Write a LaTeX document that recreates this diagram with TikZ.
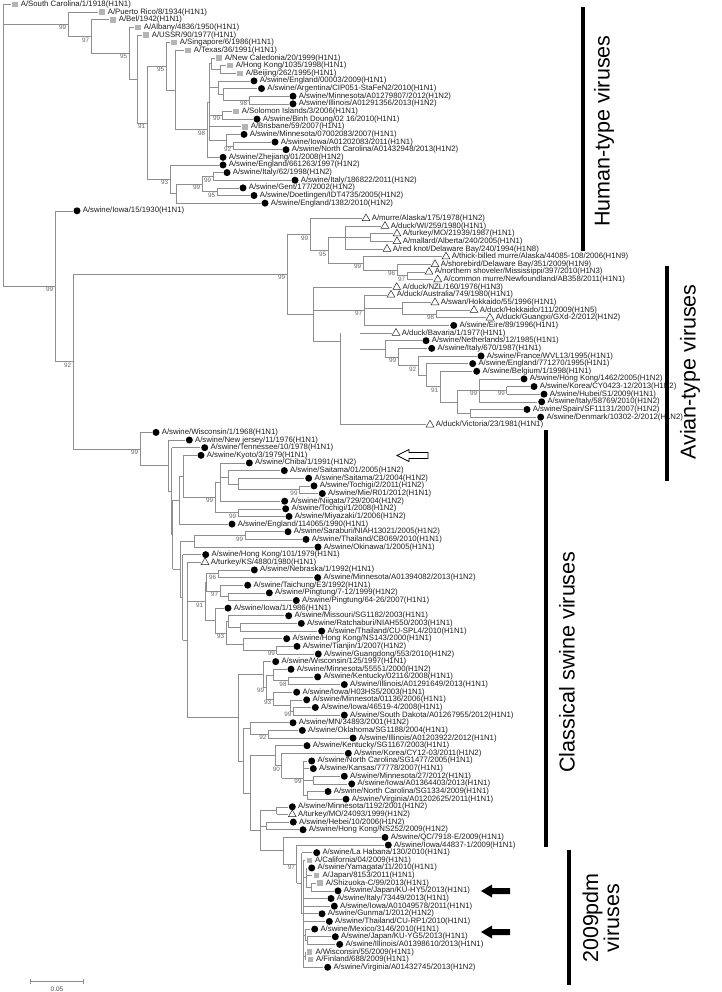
\documentclass[tikz,border=0pt]{standalone}
\usepackage{fontspec}
\setmainfont{Liberation Sans}
\usetikzlibrary{calc,shapes.geometric}
\definecolor{brc}{HTML}{8E8E8E}
\definecolor{sqc}{HTML}{B4B4B4}
\tikzset{
  br/.style={draw=brc, line width=0.6pt},
  lab/.style={anchor=west, inner sep=0pt, font=\fontsize{7.8}{8}\selectfont, text=black!88},
  sq/.style={rectangle, fill=sqc, minimum size=5.5pt, inner sep=0pt},
  ci/.style={circle, fill=black, minimum size=7pt, inner sep=0pt},
  tr/.style={regular polygon, regular polygon sides=3, draw=black!85, line width=0.5pt, minimum size=9pt, inner sep=0pt},
  bs/.style={anchor=north east, inner sep=0.4pt, font=\fontsize{6.3}{6.3}\selectfont, text=black!60},
  grpbar/.style={draw=black, line width=4.5pt},
  grp/.style={font=\fontsize{21.5}{24}\selectfont, inner sep=0pt, rotate=90},
}
% leaf: name, parent x, marker x, row, marker style, text
\newcommand\tleaf[6]{%
  \coordinate (#1) at (#3,4.5+7.641*#4);
  \draw[br] (#2,4.5+7.641*#4) -- (#3-4.5,4.5+7.641*#4);
  \node[#5] (#1m) at (#1) {};
  \node[lab] (#1t) at (#3+5.6,4.5+7.641*#4) {#6};
}
% internal node: name, parent x, x, first child, last child
\newcommand\tnode[5]{%
  \path let \p1=(#4), \p2=(#5) in coordinate (#1) at (#3pt,{0.5*\y1+0.5*\y2});
  \draw[br] let \p1=(#4), \p2=(#5), \p3=(#1) in (#3pt,\y1) -- (#3pt,\y2) (#2pt,\y3) -- (#3pt,\y3);
}
\newcommand\tboot[2]{\node[bs] (#1b) at ([xshift=-1.2pt,yshift=-0.6pt]#1) {#2};}
\begin{document}
\begin{tikzpicture}[x=1pt,y=-1pt]
\useasboundingbox (0,0) rectangle (721,992);
% ---------------- human-type
\tleaf{sc}{3}{15}{0}{sq}{A/South Carolina/1/1918(H1N1)}
\tleaf{pr}{68}{102}{1}{sq}{A/Puerto Rico/8/1934(H1N1)}
\tleaf{bel}{91}{113}{2}{sq}{A/Bel/1942(H1N1)}
\tleaf{alb}{129}{138}{3}{sq}{A/Albany/4836/1950(H1N1)}
\tleaf{ussr}{137}{146}{4}{sq}{A/USSR/90/1977(H1N1)}
\tleaf{sing}{166}{174}{5}{sq}{A/Singapore/6/1986(H1N1)}
\tleaf{tex}{175}{188}{6}{sq}{A/Texas/36/1991(H1N1)}
\tleaf{nca}{211}{219}{7}{sq}{A/New Caledonia/20/1999(H1N1)}
\tleaf{hk}{220}{230}{8}{sq}{A/Hong Kong/1035/1998(H1N1)}
\tleaf{bei}{220}{240}{9}{sq}{A/Beijing/262/1995(H1N1)}
\tleaf{eng}{218}{254}{10}{ci}{A/swine/England/00003/2009(H1N1)}
\tleaf{arg}{223}{261.5}{11}{ci}{A/swine/Argentina/CIP051-StaFeN2/2010(H1N1)}
\tleaf{mna}{249}{293}{12}{ci}{A/swine/Minnesota/A01279807/2012(H1N2)}
\tleaf{ila}{249}{293}{13}{ci}{A/swine/Illinois/A01291356/2013(H1N2)}
\tleaf{sol}{222}{236}{14}{sq}{A/Solomon Islands/3/2006(H1N1)}
\tleaf{binh}{222}{257}{15}{ci}{A/swine/Binh Doung/02 16/2010(H1N1)}
\tleaf{bri}{209}{245}{16}{sq}{A/Brisbane/59/2007(H1N1)}
\tleaf{mn07}{226}{244}{17}{ci}{A/swine/Minnesota/07002083/2007(H1N1)}
\tleaf{iowa11}{233}{275}{18}{ci}{A/swine/Iowa/A01202083/2011(H1N1)}
\tleaf{nc13}{233}{286}{19}{ci}{A/swine/North Carolina/A01432948/2013(H1N2)}
\tleaf{zhe}{207}{223}{20}{ci}{A/swine/Zhejiang/01/2008(H1N2)}
\tleaf{eng97}{170}{223}{21}{ci}{A/swine/England/661263/1997(H1N2)}
\tleaf{ita62}{213}{227}{22}{ci}{A/swine/Italy/62/1998(H1N2)}
\tleaf{ita11}{213}{295}{23}{ci}{A/swine/Italy/186822/2011(H1N2)}
\tleaf{gent}{217}{243}{24}{ci}{A/swine/Gent/177/2002(H1N2)}
\tleaf{doet}{217}{254}{25}{ci}{A/swine/Doetlingen/IDT4735/2005(H1N2)}
\tleaf{eng10}{176}{265}{26}{ci}{A/swine/England/1382/2010(H1N2)}
\tleaf{iowa30}{55}{77}{27}{ci}{A/swine/Iowa/15/1930(H1N1)}
\tnode{hHK}{211}{220}{hk}{bei}
\tnode{hNC}{209}{211}{nca}{hHK}
\tnode{hMI}{223}{249}{mna}{ila}\tboot{hMI}{98}
\tnode{hAMI}{218}{223}{arg}{hMI}
\tnode{hE}{209}{218}{eng}{hAMI}
\tnode{hSB}{209}{222}{sol}{binh}\tboot{hSB}{99}
\tnode{hIN}{226}{233}{iowa11}{nc13}\tboot{hIN}{92}
\tnode{hMIN}{209}{226}{mn07}{hIN}
\tnode{hHt}{207}{209}{hNC}{hMIN}
\tnode{h8}{175}{207}{hHt}{zhe}\tboot{h8}{98}
\tnode{h7}{166}{175}{tex}{h8}
\tnode{h6}{147}{166}{sing}{h7}\tboot{h6}{95}
\tnode{hIt}{202}{213}{ita62}{ita11}\tboot{hIt}{99}
\tnode{hGD}{202}{217}{gent}{doet}\tboot{hGD}{95}
\tnode{hIGD}{176}{202}{hIt}{hGD}\tboot{hIGD}{99}
\tnode{hX}{170}{176}{hIGD}{eng10}
\tnode{hE93}{147}{170}{eng97}{hX}\tboot{hE93}{93}
\tnode{h5}{137}{147}{h6}{hE93}\tboot{h5}{91}
\tnode{h4}{129}{137}{ussr}{h5}
\tnode{h3}{91}{129}{alb}{h4}\tboot{h3}{95}
\tnode{h2}{68}{91}{bel}{h3}\tboot{h2}{97}
\tnode{h1}{3}{68}{pr}{h2}\tboot{h1}{99}
% ---------------- avian-type
\tleaf{mur}{310}{366}{28}{tr}{A/murre/Alaska/175/1978(H1N2)}
\tleaf{wi}{345}{385}{29}{tr}{A/duck/WI/259/1980(H1N1)}
\tleaf{tmo}{370}{397}{30}{tr}{A/turkey/MO/21939/1987(H1N1)}
\tleaf{mal}{370}{397}{31}{tr}{A/mallard/Alberta/240/2005(H1N1)}
\tleaf{rk}{345}{387}{32}{tr}{A/red knot/Delaware Bay/240/1994(H1N8)}
\tleaf{tbm}{363}{446}{33}{tr}{A/thick-billed murre/Alaska/44085-108/2006(H1N9)}
\tleaf{shb}{397}{435}{34}{tr}{A/shorebird/Delaware Bay/351/2009(H1N9)}
\tleaf{nsh}{407}{429}{35}{tr}{A/northern shoveler/Mississippi/397/2010(H1N3)}
\tleaf{cmu}{407}{437.7}{36}{tr}{A/common murre/Newfoundland/AB358/2011(H1N1)}
\tleaf{nzl}{313}{396.7}{37}{tr}{A/duck/NZL/160/1976(H1N3)}
\tleaf{aus}{364}{391}{38}{tr}{A/duck/Australia/749/1980(H1N1)}
\tleaf{swan}{402}{435}{39}{tr}{A/swan/Hokkaido/55/1996(H1N1)}
\tleaf{dhok}{436}{474}{40}{tr}{A/duck/Hokkaido/111/2009(H1N5)}
\tleaf{gx}{436}{490}{41}{tr}{A/duck/Guangxi/GXd-2/2012(H1N2)}
\tleaf{eire}{364}{453.7}{42}{ci}{A/swine/Eire/89/1996(H1N1)}
\tleaf{bav}{360}{396}{43}{tr}{A/duck/Bavaria/1/1977(H1N1)}
\tleaf{neth}{385}{426}{44}{ci}{A/swine/Netherlands/12/1985(H1N1)}
\tleaf{it670}{398}{431.7}{45}{ci}{A/swine/Italy/670/1987(H1N1)}
\tleaf{fra}{418}{481}{46}{ci}{A/swine/France/WVL13/1995(H1N1)}
\tleaf{eng95}{426}{472.7}{47}{ci}{A/swine/England/771270/1995(H1N1)}
\tleaf{belg}{440}{476.7}{48}{ci}{A/swine/Belgium/1/1998(H1N1)}
\tleaf{hk05}{479}{524}{49}{ci}{A/swine/Hong Kong/1462/2005(H1N2)}
\tleaf{kor13}{506.7}{534}{50}{ci}{A/swine/Korea/CY0423-12/2013(H1N2)}
\tleaf{hub}{506.7}{544}{51}{ci}{A/swine/Hubei/S1/2009(H1N1)}
\tleaf{it10}{479}{541.7}{52}{ci}{A/swine/Italy/58769/2010(H1N2)}
\tleaf{spa}{470}{527}{53}{ci}{A/swine/Spain/SF11131/2007(H1N2)}
\tleaf{den}{470}{540.7}{54}{ci}{A/swine/Denmark/10302-2/2012(H1N2)}
\tleaf{vic}{340}{430}{55}{tr}{A/duck/Victoria/23/1981(H1N1)}
\tnode{aTM}{345}{370}{tmo}{mal}
\tnode{aW}{328}{345}{wi}{rk}
\tnode{a97}{397}{407}{nsh}{cmu}\tboot{a97}{97}
\tnode{a96}{363}{397}{shb}{a97}\tboot{a96}{96}
\tnode{a99b}{328}{363}{tbm}{a96}\tboot{a99b}{99}
\tnode{a95}{310}{328}{aW}{a99b}\tboot{a95}{95}
\tnode{a1}{287}{310}{mur}{a95}\tboot{a1}{99}
\tnode{a98}{402}{436}{dhok}{gx}\tboot{a98}{98}
\tnode{aSw}{364}{402}{swan}{a98}
\tnode{a97a}{313}{364}{aus}{eire}\tboot{a97a}{97}
\tnode{aKH}{479}{506.7}{kor13}{hub}\tboot{aKH}{99}
\tnode{aHKI}{457}{479}{hk05}{it10}\tboot{aHKI}{99}
\tnode{aSD}{457}{470}{spa}{den}
\tnode{aHD}{440}{457}{aHKI}{aSD}
\tnode{a91}{426}{440}{belg}{aHD}\tboot{a91}{91}
\tnode{aEB}{418}{426}{eng95}{a91}
\tnode{a92}{398}{418}{fra}{aEB}\tboot{a92}{92}
\tnode{a99e}{385}{398}{it670}{a92}\tboot{a99e}{99}
\tnode{aN}{360}{385}{neth}{a99e}
\tnode{aEA}{313}{340}{bav}{aN}
\draw[br] let \p1=(aEA), \p2=(vic) in (340pt,\y1) -- (340pt,\y2);
\tnode{a2}{287}{313}{nzl}{aEA}
\tnode{av}{73}{287}{a1}{a2}\tboot{av}{99}
% ---------------- classical swine
\tleaf{wis68}{140}{156}{56}{ci}{A/swine/Wisconsin/1/1968(H1N1)}
\tleaf{nj}{168.3}{189.3}{57}{ci}{A/swine/New jersey/11/1976(H1N1)}
\tleaf{ten}{171.7}{204.7}{58}{ci}{A/swine/Tennessee/10/1978(H1N1)}
\tleaf{kyo}{183}{201}{59}{ci}{A/swine/Kyoto/3/1979(H1N1)}
\tleaf{chi}{220}{249.3}{60}{ci}{A/swine/Chiba/1/1991(H1N2)}
\tleaf{sai01}{228}{284.3}{61}{ci}{A/swine/Saitama/01/2005(H1N2)}
\tleaf{sai21}{238.3}{308.7}{62}{ci}{A/swine/Saitama/21/2004(H1N2)}
\tleaf{toc2}{299.3}{314}{63}{ci}{A/swine/Tochigi/2/2011(H1N2)}
\tleaf{mie}{299.3}{322.3}{64}{ci}{A/swine/Mie/R01/2012(H1N1)}
\tleaf{nii}{220}{284.7}{65}{ci}{A/swine/Niigata/729/2004(H1N2)}
\tleaf{toc1}{238}{285.7}{66}{ci}{A/swine/Tochigi/1/2008(H1N2)}
\tleaf{miy}{238}{289}{67}{ci}{A/swine/Miyazaki/1/2006(H1N2)}
\tleaf{eng90}{179.3}{232}{68}{ci}{A/swine/England/114065/1990(H1N1)}
\tleaf{sar}{245}{288}{69}{ci}{A/swine/Saraburi/NIAH13021/2005(H1N2)}
\tleaf{thcb}{245}{306}{70}{ci}{A/swine/Thailand/CB069/2010(H1N1)}
\tleaf{oki}{194}{318}{71}{ci}{A/swine/Okinawa/1/2005(H1N1)}
\tleaf{hk79}{182.7}{205.7}{72}{ci}{A/swine/Hong Kong/101/1979(H1N1)}
\tleaf{tks}{187.3}{205}{73}{tr}{A/turkey/KS/4880/1980(H1N1)}
\tleaf{neb}{218}{254.3}{74}{ci}{A/swine/Nebraska/1/1992(H1N1)}
\tleaf{mn13}{218}{317.7}{75}{ci}{A/swine/Minnesota/A01394082/2013(H1N2)}
\tleaf{tai}{220}{247.7}{76}{ci}{A/swine/Taichung/E3/1992(H1N1)}
\tleaf{pt99}{228.3}{269.3}{77}{ci}{A/swine/Pingtung/7-12/1999(H1N2)}
\tleaf{pt07}{228.3}{296.3}{78}{ci}{A/swine/Pingtung/64-26/2007(H1N1)}
\tleaf{iow86}{215}{228}{79}{ci}{A/swine/Iowa/1/1986(H1N1)}
\tleaf{mis}{228.3}{288.7}{80}{ci}{A/swine/Missouri/SG1182/2003(H1N1)}
\tleaf{rat}{240}{301.3}{81}{ci}{A/swine/Ratchaburi/NIAH550/2003(H1N1)}
\tleaf{thsp}{240}{321.7}{82}{ci}{A/swine/Thailand/CU-SPL4/2010(H1N1)}
\tleaf{hk00}{243.3}{286.7}{83}{ci}{A/swine/Hong Kong/NS143/2000(H1N1)}
\tleaf{tia}{276.7}{297}{84}{ci}{A/swine/Tianjin/1/2007(H1N2)}
\tleaf{gd}{276.7}{318.3}{85}{ci}{A/swine/Guangdong/553/2010(H1N2)}
\tleaf{wis97}{263}{275.7}{86}{ci}{A/swine/Wisconsin/125/1997(H1N1)}
\tleaf{mn00}{273.3}{291}{87}{ci}{A/swine/Minnesota/55551/2000(H1N2)}
\tleaf{ken08}{288.3}{317.7}{88}{ci}{A/swine/Kentucky/02116/2008(H1N1)}
\tleaf{il13}{288.3}{344.3}{89}{ci}{A/swine/Illinois/A01291649/2013(H1N1)}
\tleaf{iah03}{273}{296.7}{90}{ci}{A/swine/Iowa/H03HS5/2003(H1N1)}
\tleaf{mn06}{290}{306.7}{91}{ci}{A/swine/Minnesota/01136/2006(H1N1)}
\tleaf{ia08}{293.3}{315.3}{92}{ci}{A/swine/Iowa/46519-4/2008(H1N1)}
\tleaf{sd}{293.3}{344.3}{93}{ci}{A/swine/South Dakota/A01267955/2012(H1N1)}
\tleaf{mn01}{250}{293}{94}{ci}{A/swine/MN/34893/2001(H1N2)}
\tleaf{okl}{268.3}{302.3}{95}{ci}{A/swine/Oklahoma/SG1188/2004(H1N1)}
\tleaf{il12}{268.3}{353}{96}{ci}{A/swine/Illinois/A01203922/2012(H1N1)}
\tleaf{ken03}{275}{307}{97}{ci}{A/swine/Kentucky/SG1167/2003(H1N1)}
\tleaf{kor11}{281.7}{348.3}{98}{ci}{A/swine/Korea/CY12-03/2011(H1N2)}
\tleaf{nc05}{303.3}{311.7}{99}{ci}{A/swine/North Carolina/SG1477/2005(H1N1)}
\tleaf{kan}{303.3}{313.3}{100}{ci}{A/swine/Kansas/77778/2007(H1N1)}
\tleaf{mn12}{313.3}{344.3}{101}{ci}{A/swine/Minnesota/27/2012(H1N1)}
\tleaf{ia13}{313.3}{351.7}{102}{ci}{A/swine/Iowa/A01364403/2013(H1N1)}
\tleaf{nc09}{307.3}{328}{103}{ci}{A/swine/North Carolina/SG1334/2009(H1N1)}
\tleaf{va11}{307.3}{346}{104}{ci}{A/swine/Virginia/A01202625/2011(H1N1)}
\tleaf{mn1192}{276.7}{292.3}{105}{ci}{A/swine/Minnesota/1192/2001(H1N2)}
\tleaf{tmo99}{276.7}{292.3}{106}{tr}{A/turkey/MO/24093/1999(H1N2)}
\tleaf{heb}{266.7}{293.3}{107}{ci}{A/swine/Hebei/10/2006(H1N2)}
\tleaf{hk09}{266.7}{303}{108}{ci}{A/swine/Hong Kong/NS252/2009(H1N2)}
\tleaf{qc}{283.3}{385}{109}{ci}{A/swine/QC/7918-E/2009(H1N1)}
\tleaf{ia09}{296.7}{388.3}{110}{ci}{A/swine/Iowa/44837-1/2009(H1N1)}
% ---------------- 2009pdm
\tleaf{lah}{301.7}{316.7}{111}{ci}{A/swine/La Habana/130/2010(H1N1)}
\tleaf{cal}{303.3}{309.3}{112}{sq}{A/California/04/2009(H1N1)}
\tleaf{yam}{306}{311.7}{113}{ci}{A/swine/Yamagata/11/2010(H1N1)}
\tleaf{jp11}{306}{316.7}{114}{sq}{A/Japan/8153/2011(H1N1)}
\tleaf{shi}{311}{320}{115}{sq}{A/Shizuoka-C/99/2013(H1N1)}
\tleaf{hy5}{311}{338}{116}{ci}{A/swine/Japan/KU-HY5/2013(H1N1)}
\tleaf{it13}{303.3}{331}{117}{ci}{A/swine/Italy/73449/2013(H1N1)}
\tleaf{ia11}{303.3}{334.3}{118}{ci}{A/swine/Iowa/A01049578/2011(H1N1)}
\tleaf{gun}{303.3}{322}{119}{ci}{A/swine/Gunma/1/2012(H1N2)}
\tleaf{thrp}{303.3}{329.3}{120}{ci}{A/swine/Thailand/CU-RP1/2010(H1N1)}
\tleaf{mex}{305}{314.7}{121}{ci}{A/swine/Mexico/3146/2010(H1N1)}
\tleaf{yg5}{307}{335.3}{122}{ci}{A/swine/Japan/KU-YG5/2013(H1N1)}
\tleaf{il398}{307}{339.7}{123}{ci}{A/swine/Illinois/A01398610/2013(H1N1)}
\tleaf{wis09}{305}{309.7}{124}{sq}{A/Wisconsin/55/2009(H1N1)}
\tleaf{fin}{305}{310.3}{125}{sq}{A/Finland/688/2009(H1N1)}
\tleaf{va13}{303.3}{327.7}{126}{ci}{A/swine/Virginia/A01432745/2013(H1N2)}
% classical internal nodes
\tnode{cTM2}{238.3}{299.3}{toc2}{mie}\tboot{cTM2}{99}
\tnode{cS21}{228}{238.3}{sai21}{cTM2}
\tnode{cS01}{220}{228}{sai01}{cS21}
\tnode{cCS}{215}{220}{chi}{nii}
\tnode{cTM}{215}{238}{toc1}{miy}\tboot{cTM}{99}
\tnode{cJ0}{183}{215}{cCS}{cTM}\tboot{cJ0}{99}
\tnode{cK}{179.3}{183}{kyo}{cJ0}
\tnode{c3a}{172.7}{179.3}{cK}{eng90}
\tnode{cST}{194}{245}{sar}{thcb}\tboot{cST}{99}
\tnode{cSTO}{180}{194}{cST}{oki}
\tnode{cNM}{206}{218}{neb}{mn13}\tboot{cNM}{96}
\tnode{cPP}{220}{228.3}{pt99}{pt07}
\tnode{cTP}{206}{220}{tai}{cPP}\tboot{cTP}{97}
\tnode{cNMTP}{205}{206}{cNM}{cTP}
\tnode{cRT}{228.3}{240}{rat}{thsp}
\tnode{cMRT}{226}{228.3}{mis}{cRT}
\tnode{cTG}{243.3}{276.7}{tia}{gd}\tboot{cTG}{99}
\tnode{cHT}{226}{243.3}{hk00}{cTG}
\tnode{c93}{215}{226}{cMRT}{cHT}\tboot{c93}{93}
\tnode{cNA}{205}{215}{iow86}{c93}
\tnode{c91}{187.3}{205}{cNMTP}{cNA}\tboot{c91}{91}
\tnode{cKI}{273.3}{288.3}{ken08}{il13}\tboot{cKI}{98}
\tnode{cMKI}{266}{273.3}{mn00}{cKI}
\tnode{cIS}{290}{293.3}{ia08}{sd}\tboot{cIS}{99}
\tnode{cMIS}{273}{290}{mn06}{cIS}
\tnode{cI93}{266}{273}{iah03}{cMIS}\tboot{cI93}{93}
\tnode{c99c}{263}{266}{cMKI}{cI93}\tboot{c99c}{99}
\tnode{cW}{238.3}{263}{wis97}{c99c}
\tnode{c92d}{250}{268.3}{okl}{il12}\tboot{c92d}{92}
\tnode{cMN92}{243.3}{250}{mn01}{c92d}
\tnode{cMI27}{303.3}{313.3}{mn12}{ia13}
\tnode{cNCV}{303.3}{307.3}{nc09}{va11}
\tnode{c99f}{281.7}{303.3}{nc05}{cNCV}\tboot{c99f}{99}
\tnode{c90}{275}{281.7}{kor11}{c99f}\tboot{c90}{90}
\tnode{cKK}{250}{275}{ken03}{c90}
\tnode{cMT}{260}{276.7}{mn1192}{tmo99}
\tnode{cHH}{260}{266.7}{heb}{hk09}
\tnode{pSH}{306}{311}{shi}{hy5}
\tnode{pY}{303.3}{306}{yam}{pSH}
\tnode{pYI}{305}{307}{yg5}{il398}
\tnode{pMY}{303.3}{305}{mex}{pYI}
\tnode{pWF}{303.3}{305}{wis09}{fin}
\tnode{pC}{301.7}{303.3}{cal}{va13}
\tnode{pdm}{296.7}{301.7}{lah}{pC}
\tnode{pI97}{283.3}{296.7}{ia09}{pdm}\tboot{pI97}{97}
\tnode{cQI}{260}{283.3}{qc}{pI97}
\tnode{cB4}{250}{260}{cMT}{cQI}
\tnode{cB3}{243.3}{250}{cKK}{cB4}
\tnode{cB2}{238.3}{243.3}{cMN92}{cB3}
\tnode{cB1}{187.3}{238.3}{cW}{cB2}
\tnode{c6}{182.7}{187.3}{tks}{cB1}
\tnode{c5}{180}{182.7}{hk79}{c6}
\tnode{c4}{172.7}{180}{cSTO}{c5}
\tnode{c3}{171.7}{172.7}{c3a}{c4}
\tnode{c2}{168.3}{171.7}{ten}{c3}
\tnode{c1}{140}{168.3}{nj}{c2}
\tnode{c0}{73}{140}{wis68}{c1}\tboot{c0}{99}
% ---------------- backbone
\tnode{n92}{55}{73}{av}{c0}\tboot{n92}{92}
\tnode{s}{3}{55}{iowa30}{n92}\tboot{s}{99}
\draw[br] let \p1=(sc), \p2=(s) in (3pt,\y1) -- (3pt,\y2);
% ---------------- group bars and labels
\draw[grpbar] (583,7) -- (583,251);
\node[grp] (tH) at (604,131) {Human-type viruses};
\draw[grpbar] (667,266) -- (667,481);
\node[grp] (tA) at (690,372) {Avian-type viruses};
\draw[grpbar] (546,430) -- (546,847);
\node[grp] (tC) at (567,662) {Classical swine viruses};
\draw[grpbar] (569,850) -- (569,985);
\node[grp, align=center] (tP) at (601,918) {2009pdm\\[-3pt]viruses};
% arrows
\draw[black, line width=0.8pt, fill=white] (397,455.5) -- (409,449.5) -- (409,452.5) -- (428,452.5) -- (428,458.5) -- (409,458.5) -- (409,461.5) -- cycle;
\fill[black] (481,891) -- (492,884.5) -- (492,888) -- (510,888) -- (510,894) -- (492,894) -- (492,897.5) -- cycle;
\fill[black] (481,932) -- (492,925.5) -- (492,929) -- (510,929) -- (510,935) -- (492,935) -- (492,938.5) -- cycle;
% scale bar
\coordinate (sbl) at (30.7,981);
\coordinate (sbr) at (83.3,981);
\draw[br] (sbl) -- (sbr) (30.7,978.5) -- (30.7,983.5) (83.3,978.5) -- (83.3,983.5);
\node[font=\fontsize{6.5}{7}\selectfont, text=black!70, inner sep=0pt] (sbt) at (57,989) {0.05};
\end{tikzpicture}
\end{document}
